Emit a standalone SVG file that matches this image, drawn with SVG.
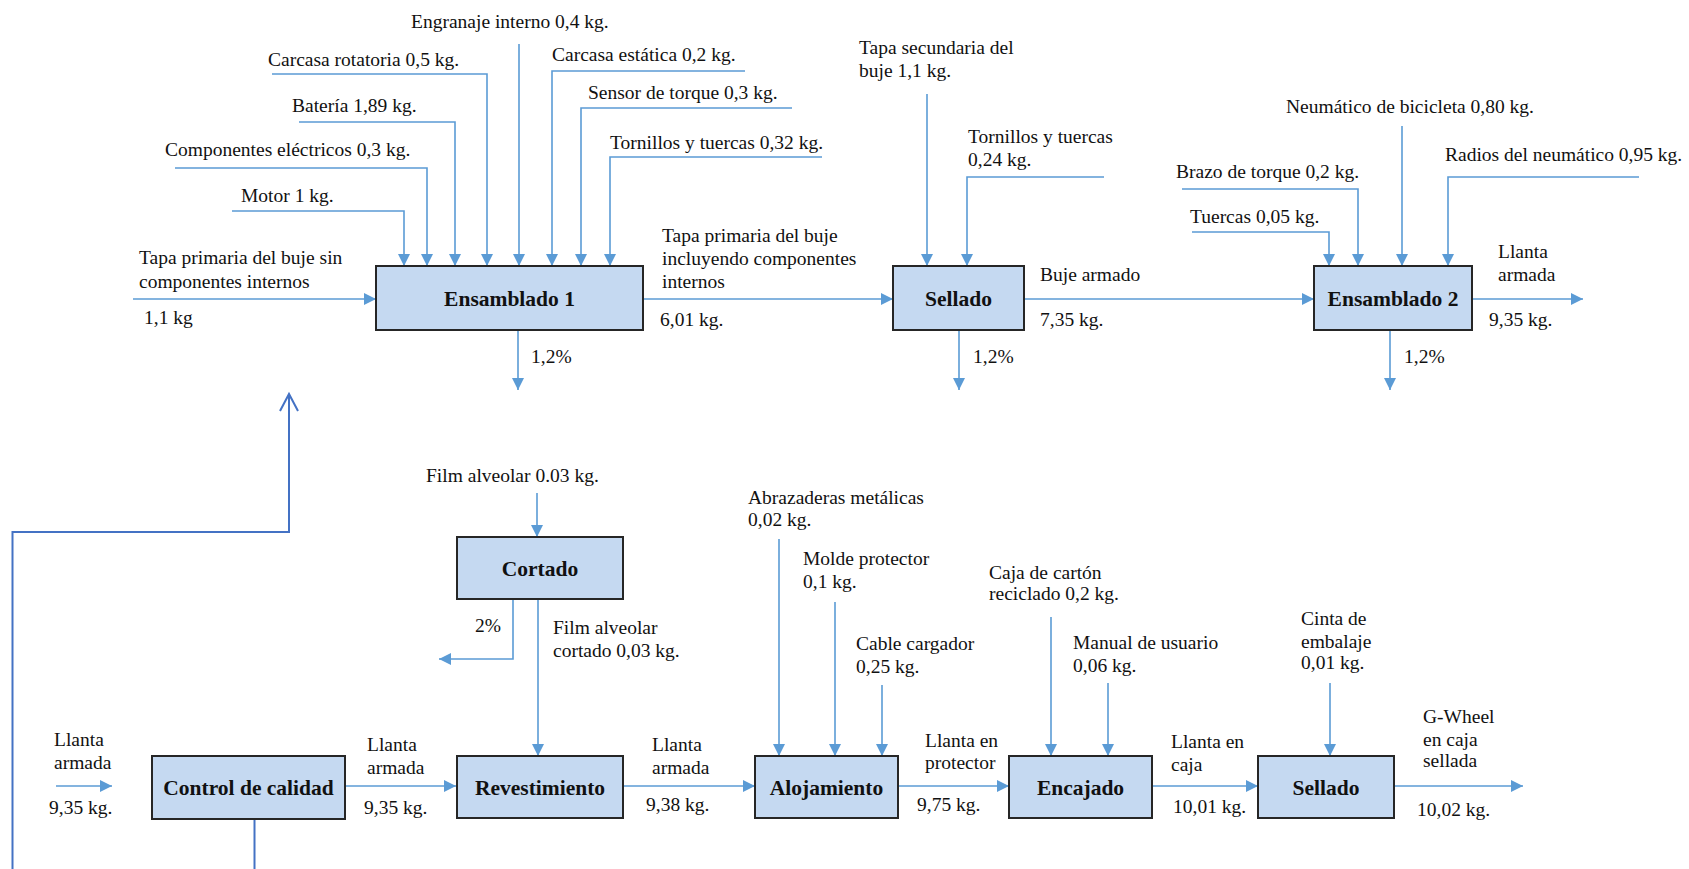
<svg xmlns="http://www.w3.org/2000/svg" width="1689" height="869" viewBox="0 0 1689 869">
<style>
.t{font-family:"Liberation Serif","Times New Roman",serif;font-size:19.5px;fill:#111}
.b{font-family:"Liberation Serif","Times New Roman",serif;font-size:21.5px;font-weight:bold;fill:#111;text-anchor:middle}
.box{fill:#C5D9F1;stroke:#262626;stroke-width:2}
.c{fill:none;stroke:#5B9BD5;stroke-width:1.6;marker-end:url(#ah)}
.n{fill:none;stroke:#5B9BD5;stroke-width:1.6}
.fb{fill:none;stroke:#4472C4;stroke-width:2}
</style>
<defs>
<marker id="ah" markerUnits="userSpaceOnUse" viewBox="0 0 12 12" markerWidth="12" markerHeight="12" refX="12" refY="6" orient="auto">
<path d="M0,0 L12,6 L0,12 z" fill="#5B9BD5"/>
</marker>
</defs>
<rect width="1689" height="869" fill="#fff"/>

<g id="connectors">
<path class="c" d="M133,299 H376"/>
<path class="c" d="M643,299 H893"/>
<path class="c" d="M1024,299 H1314"/>
<path class="c" d="M1472,299 H1583"/>
<path class="c" d="M232,211 H404 V266"/>
<path class="c" d="M175,168 H427 V266"/>
<path class="c" d="M299,122 H455 V266"/>
<path class="c" d="M272,74 H487 V266"/>
<path class="c" d="M519,44 V266"/>
<path class="c" d="M745,71 H552 V266"/>
<path class="c" d="M792,108 H581 V266"/>
<path class="c" d="M822,157 H610 V266"/>
<path class="c" d="M927,94 V266"/>
<path class="c" d="M1104,177 H967 V266"/>
<path class="c" d="M1192,232 H1329 V266"/>
<path class="c" d="M1182,189 H1358 V266"/>
<path class="c" d="M1402,126 V266"/>
<path class="c" d="M1639,177 H1448 V266"/>
<path class="c" d="M518,330 V390"/>
<path class="c" d="M959,330 V390"/>
<path class="c" d="M1390,330 V390"/>
<path class="c" d="M537,493 V537"/>
<path class="c" d="M513,599 V659 H439"/>
<path class="c" d="M538,599 V756"/>
<path class="c" d="M56,786 H112"/>
<path class="c" d="M345,786 H456"/>
<path class="c" d="M623,786 H755"/>
<path class="c" d="M779,539 V756"/>
<path class="c" d="M835,602 V756"/>
<path class="c" d="M882,685 V756"/>
<path class="c" d="M898,786 H1009"/>
<path class="c" d="M1051,617 V756"/>
<path class="c" d="M1108,683 V756"/>
<path class="c" d="M1152,786 H1258"/>
<path class="c" d="M1330,683 V756"/>
<path class="c" d="M1394,786 H1523"/>
<path class="fb" d="M12.5,869 V532 H289 V394"/>
<path class="fb" d="M280,411 L289,394 L298,411"/>
<path class="fb" d="M254.5,819 V869"/>
</g>

<g id="ensamblado1"><rect class="box" x="376" y="266" width="267" height="64"/><text class="b" x="509.5" y="306">Ensamblado 1</text></g>
<g id="sellado1"><rect class="box" x="893" y="266" width="131" height="64"/><text class="b" x="958.5" y="306">Sellado</text></g>
<g id="ensamblado2"><rect class="box" x="1314" y="266" width="158" height="64"/><text class="b" x="1393" y="306">Ensamblado 2</text></g>
<g id="cortado"><rect class="box" x="457" y="537" width="166" height="62"/><text class="b" x="540" y="576">Cortado</text></g>
<g id="control"><rect class="box" x="152" y="756" width="193" height="63"/><text class="b" x="248.5" y="795">Control de calidad</text></g>
<g id="revestimiento"><rect class="box" x="457" y="756" width="166" height="62"/><text class="b" x="540" y="795">Revestimiento</text></g>
<g id="alojamiento"><rect class="box" x="755" y="756" width="143" height="62"/><text class="b" x="826.5" y="795">Alojamiento</text></g>
<g id="encajado"><rect class="box" x="1009" y="756" width="143" height="62"/><text class="b" x="1080.5" y="795">Encajado</text></g>
<g id="sellado2"><rect class="box" x="1258" y="756" width="136" height="62"/><text class="b" x="1326" y="795">Sellado</text></g>

<g id="labels">
<text class="t" x="411" y="28">Engranaje interno 0,4 kg.</text>
<text class="t" x="268" y="66">Carcasa rotatoria 0,5 kg.</text>
<text class="t" x="552" y="61">Carcasa estática 0,2 kg.</text>
<text class="t" x="588" y="99">Sensor de torque 0,3 kg.</text>
<text class="t" x="292" y="112">Batería 1,89 kg.</text>
<text class="t" x="165" y="156">Componentes eléctricos 0,3 kg.</text>
<text class="t" x="610" y="149">Tornillos y tuercas 0,32 kg.</text>
<text class="t" x="241" y="202">Motor 1 kg.</text>
<text class="t" x="139" y="264">Tapa primaria del buje sin</text>
<text class="t" x="139" y="288">componentes internos</text>
<text class="t" x="144" y="324">1,1 kg</text>
<text class="t" x="662" y="242">Tapa primaria del buje</text>
<text class="t" x="662" y="265">incluyendo componentes</text>
<text class="t" x="662" y="288">internos</text>
<text class="t" x="660" y="326">6,01 kg.</text>
<text class="t" x="531" y="363">1,2%</text>
<text class="t" x="859" y="54">Tapa secundaria del</text>
<text class="t" x="859" y="77">buje 1,1 kg.</text>
<text class="t" x="968" y="143">Tornillos y tuercas</text>
<text class="t" x="968" y="166">0,24 kg.</text>
<text class="t" x="1040" y="281">Buje armado</text>
<text class="t" x="1040" y="326">7,35 kg.</text>
<text class="t" x="973" y="363">1,2%</text>
<text class="t" x="1286" y="113">Neumático de bicicleta 0,80 kg.</text>
<text class="t" x="1445" y="161">Radios del neumático 0,95 kg.</text>
<text class="t" x="1176" y="178">Brazo de torque 0,2 kg.</text>
<text class="t" x="1190" y="223">Tuercas 0,05 kg.</text>
<text class="t" x="1498" y="258">Llanta</text>
<text class="t" x="1498" y="281">armada</text>
<text class="t" x="1489" y="326">9,35 kg.</text>
<text class="t" x="1404" y="363">1,2%</text>

<text class="t" x="426" y="482">Film alveolar 0.03 kg.</text>
<text class="t" x="475" y="632">2%</text>
<text class="t" x="553" y="634">Film alveolar</text>
<text class="t" x="553" y="657">cortado 0,03 kg.</text>
<text class="t" x="748" y="504">Abrazaderas metálicas</text>
<text class="t" x="748" y="526">0,02 kg.</text>
<text class="t" x="803" y="565">Molde protector</text>
<text class="t" x="803" y="588">0,1 kg.</text>
<text class="t" x="856" y="650">Cable cargador</text>
<text class="t" x="856" y="673">0,25 kg.</text>
<text class="t" x="989" y="579">Caja de cartón</text>
<text class="t" x="989" y="600">reciclado 0,2 kg.</text>
<text class="t" x="1073" y="649">Manual de usuario</text>
<text class="t" x="1073" y="672">0,06 kg.</text>
<text class="t" x="1301" y="625">Cinta de</text>
<text class="t" x="1301" y="648">embalaje</text>
<text class="t" x="1301" y="669">0,01 kg.</text>
<text class="t" x="1423" y="723">G-Wheel</text>
<text class="t" x="1423" y="746">en caja</text>
<text class="t" x="1423" y="767">sellada</text>
<text class="t" x="54" y="746">Llanta</text>
<text class="t" x="54" y="769">armada</text>
<text class="t" x="49" y="814">9,35 kg.</text>
<text class="t" x="367" y="751">Llanta</text>
<text class="t" x="367" y="774">armada</text>
<text class="t" x="364" y="814">9,35 kg.</text>
<text class="t" x="652" y="751">Llanta</text>
<text class="t" x="652" y="774">armada</text>
<text class="t" x="646" y="811">9,38 kg.</text>
<text class="t" x="925" y="747">Llanta en</text>
<text class="t" x="925" y="769">protector</text>
<text class="t" x="917" y="811">9,75 kg.</text>
<text class="t" x="1171" y="748">Llanta en</text>
<text class="t" x="1171" y="771">caja</text>
<text class="t" x="1173" y="813">10,01 kg.</text>
<text class="t" x="1417" y="816">10,02 kg.</text>
</g>
</svg>
